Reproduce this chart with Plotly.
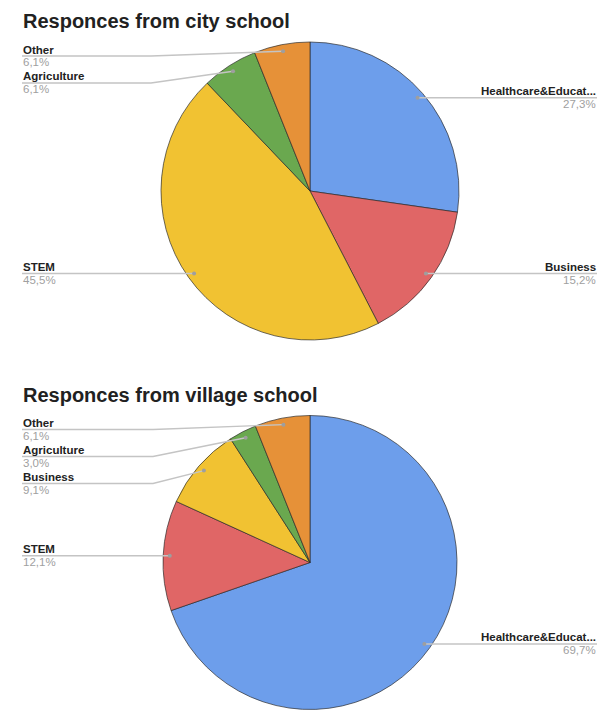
import math
import plotly.graph_objects as go

# ---------------- data ----------------
city_labels = ["Healthcare&Education", "Business", "STEM", "Agriculture", "Other"]
city_values = [9, 5, 15, 2, 2]
village_labels = ["Healthcare&Education", "STEM", "Business", "Agriculture", "Other"]
village_values = [23, 4, 3, 1, 2]
titles = ["Responces from city school", "Responces from village school"]

# colours are assigned by slice position
slice_colors = ["#6d9eeb", "#e06666", "#f1c232", "#6aa84f", "#e69138"]

W, H = 601, 710
FONT = "Liberation Sans, Arial, sans-serif"


def X(px):
    return px / W


def Y(py):
    return 1 - py / H


fig = go.Figure()
annotations = []
shapes = []

charts = [
    dict(labels=city_labels, values=city_values, title=titles[0], cx=310, cy=191, r=149, ty=21),
    dict(labels=village_labels, values=village_values, title=titles[1], cx=310, cy=562.5, r=147, ty=395),
]

LEFT_X, RIGHT_X = 22, 597

for ch in charts:
    cx, cy, r = ch["cx"], ch["cy"], ch["r"]
    labels, values = ch["labels"], ch["values"]
    fig.add_trace(go.Pie(
        labels=labels, values=values, sort=False, direction="clockwise", rotation=0,
        marker=dict(colors=slice_colors[:len(labels)], line=dict(color="rgba(40,40,40,0.85)", width=0.8)),
        textinfo="none", hoverinfo="label+percent", showlegend=False,
        domain=dict(x=[X(cx - r), X(cx + r)], y=[Y(cy + r), Y(cy - r)]),
    ))
    annotations.append(dict(
        text="<b>" + ch["title"] + "</b>", x=X(LEFT_X - 1), y=Y(ch["ty"]), xref="paper", yref="paper",
        xanchor="left", yanchor="middle", showarrow=False,
        font=dict(family=FONT, size=20, color="#212121"),
    ))

    total = sum(values)
    cum = 0
    items = []
    for lab, v in zip(labels, values):
        mid = (cum + v / 2) / total
        cum += v
        th = 2 * math.pi * mid
        dx = cx + 0.955 * r * math.sin(th)
        dy = cy - 0.955 * r * math.cos(th)
        side = "right" if dx > cx else "left"
        pct = f"{v / total * 100:.1f}".replace(".", ",") + "%"
        items.append(dict(label=lab, dx=dx, dy=dy, side=side, pct=pct))

    min_top = cy - r + 14
    for side in ("left", "right"):
        group = sorted([it for it in items if it["side"] == side], key=lambda it: it["dy"])
        prev = None
        for it in group:
            ly = max(it["dy"], min_top)
            if prev is not None:
                ly = max(ly, prev + 27)
            it["ly"] = ly
            prev = ly

    for it in items:
        ly = it["ly"]
        if it["side"] == "left":
            x0, bend, anchor = LEFT_X, cx - r - 10, "left"
        else:
            x0, bend, anchor = RIGHT_X, cx + r + 10, "right"
        path = f"M {X(x0)} {Y(ly)} L {X(bend)} {Y(ly)} L {X(it['dx'])} {Y(it['dy'])}"
        shapes.append(dict(type="path", path=path, xref="paper", yref="paper",
                           line=dict(color="#c4c4c4", width=1.4), layer="above"))
        shapes.append(dict(type="circle", xref="paper", yref="paper",
                           x0=X(it["dx"] - 2), x1=X(it["dx"] + 2), y0=Y(it["dy"] + 2), y1=Y(it["dy"] - 2),
                           fillcolor="#9e9e9e", line=dict(width=0), layer="above"))
        name = it["label"]
        if len(name) > 17:
            name = name[:17] + "..."
        name = name.replace("&", "&amp;")
        annotations.append(dict(
            text="<b>" + name + "</b>", x=X(x0), y=Y(ly - 6.5), xref="paper", yref="paper",
            xanchor=anchor, yanchor="middle", showarrow=False, borderpad=0,
            font=dict(family=FONT, size=11.5, color="#222222"),
        ))
        annotations.append(dict(
            text=it["pct"], x=X(x0), y=Y(ly + 6.5), xref="paper", yref="paper",
            xanchor=anchor, yanchor="middle", showarrow=False, borderpad=0,
            font=dict(family=FONT, size=11.5, color="#a0a0a0"),
        ))

fig.update_layout(
    width=W, height=H, margin=dict(l=0, r=0, t=0, b=0),
    paper_bgcolor="white", plot_bgcolor="white",
    annotations=annotations, shapes=shapes,
)

fig.write_html("out.html")
